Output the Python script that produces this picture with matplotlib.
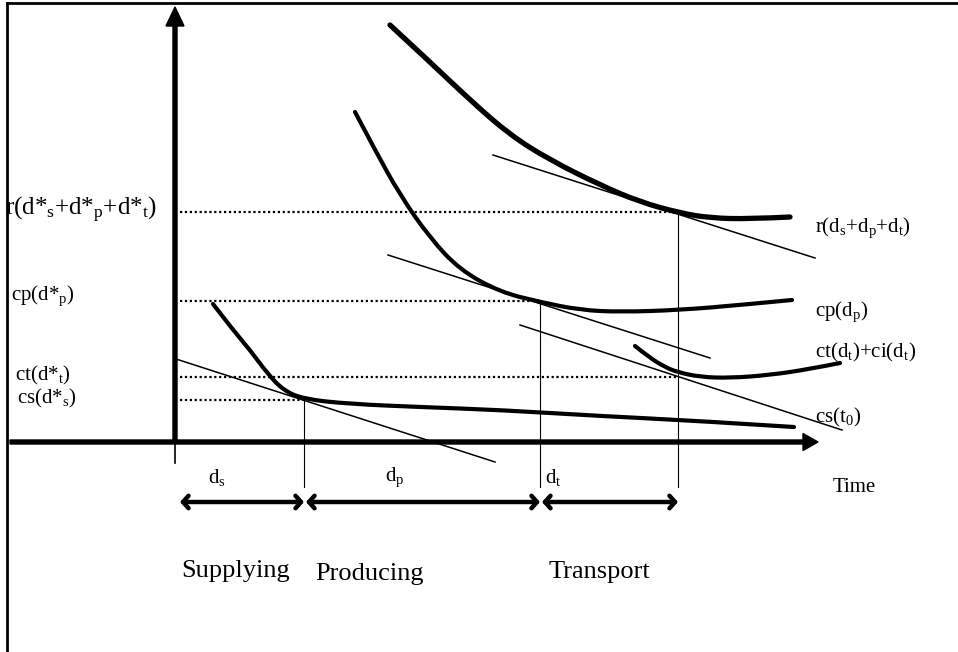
import matplotlib.pyplot as plt
from matplotlib.path import Path
from matplotlib.patches import PathPatch

plt.rcParams['font.family'] = ['Liberation Serif', 'DejaVu Serif']
plt.rcParams['mathtext.default'] = 'regular'

# curves (pixel coords, y down)
r_x = [390, 430, 470, 510, 550, 600, 640, 680, 710, 750, 790]
r_y = [25, 62, 100, 135, 160, 185, 202, 213, 218, 219, 217]
cp_x = [355, 375, 400, 430, 460, 500, 540, 580, 620, 680, 740, 792]
cp_y = [112, 150, 195, 238, 270, 292, 302, 310, 312, 310, 305, 300]
ct_x = [635, 650, 665, 677, 700, 730, 770, 810, 840]
ct_y = [346, 358, 367, 372, 377, 378, 375, 369, 363]
cs_x = [213, 233, 250, 267, 283, 303, 350, 420, 500, 600, 700, 794]
cs_y = [304, 330, 350, 373, 390, 399, 404, 407, 410, 416, 421, 427]

# tangent lines: (x0, y0, x1, y1)
tangents = [(493, 155, 815, 258), (388, 255, 710, 358),
            (520, 325, 842, 430), (176, 359, 495, 462)]

# optimum levels (dotted) and durations
levels_y = [212, 301, 377, 400]
levels_x = [678, 540, 678, 304]
bounds = [178, 304, 540, 678]
drops_top = [400, 302, 213]

left_labels = [r'r(d*$_s$+d*$_p$+d*$_t$)', r'cp(d*$_p$)', r'ct(d*$_t$)', r'cs(d*$_s$)']
left_pos = [(5, 210), (11, 296), (15, 375), (17, 398)]
left_size = [18, 15, 15, 15]
right_labels = [r'r(d$_s$+d$_p$+d$_t$)', r'cp(d$_p$)', r'ct(d$_t$)+ci(d$_t$)', r'cs(t$_0$)']
right_pos = [(815, 228), (815, 312), (815, 352), (815, 417)]
dur_labels = [r'd$_s$', r'd$_p$', r'd$_t$']
dur_pos = [(208, 477), (385, 477), (545, 477)]
phase_labels = ['Supplying', 'Producing', 'Transport']
phase_pos = [(181, 571), (315, 574), (549, 572)]


def smooth(ax, xs, ys, lw):
    # quadratic bezier through midpoints, points as control points
    pts = list(zip(xs, ys))
    verts = [pts[0]]
    codes = [Path.MOVETO]
    for i in range(1, len(pts) - 1):
        mid = ((pts[i][0] + pts[i + 1][0]) / 2, (pts[i][1] + pts[i + 1][1]) / 2)
        if i == len(pts) - 2:
            mid = pts[-1]
        verts += [pts[i], mid]
        codes += [Path.CURVE3, Path.CURVE3]
    ax.add_patch(PathPatch(Path(verts, codes), fill=False, lw=lw,
                           edgecolor='black', capstyle='round'))


fig = plt.figure(figsize=(9.58, 6.52), dpi=100)
ax = fig.add_axes([0, 0, 1, 1])
ax.set_xlim(0, 958)
ax.set_ylim(652, 0)
ax.axis('off')

# frame (top and left only)
ax.plot([7, 958], [3, 3], color='black', lw=2)
ax.plot([7, 7], [3, 652], color='black', lw=2)

# axes with arrows
ax.arrow(10, 442, 808, 0, width=4, head_width=17, head_length=15,
         length_includes_head=True, color='black')
ax.arrow(175, 442, 0, -435, width=4, head_width=18, head_length=19,
         length_includes_head=True, color='black')
ax.plot([175, 175], [442, 463], color='black', lw=1.2)

# curves
smooth(ax, r_x, r_y, 3.8)
smooth(ax, cp_x, cp_y, 3.0)
smooth(ax, ct_x, ct_y, 3.0)
smooth(ax, cs_x, cs_y, 3.0)

for x0, y0, x1, y1 in tangents:
    ax.plot([x0, x1], [y0, y1], color='black', lw=1.1)

for y, x in zip(levels_y, levels_x):
    ax.plot([180, x], [y, y], color='black', lw=1.6, ls=(0, (1, 1.2)))

for x, top in zip(bounds[1:], drops_top):
    ax.plot([x, x], [top, 487], color='black', lw=0.8)

# duration arrows
for a, b in zip(bounds[:-1], bounds[1:]):
    ax.annotate('', xy=(b, 502), xytext=(a + 2, 502),
                arrowprops=dict(arrowstyle='<->,head_length=0.4,head_width=0.45',
                                lw=3.2, color='black', shrinkA=0, shrinkB=0))

for s, (x, y), fs in zip(left_labels, left_pos, left_size):
    ax.text(x, y, s, fontsize=fs, ha='left', va='center')
for s, (x, y) in zip(right_labels, right_pos):
    ax.text(x, y, s, fontsize=15, ha='left', va='center')
for s, (x, y) in zip(dur_labels, dur_pos):
    ax.text(x, y, s, fontsize=15, ha='left', va='center')
ax.text(833, 487, 'Time', fontsize=15, ha='left', va='center')
for s, (x, y) in zip(phase_labels, phase_pos):
    ax.text(x, y, s, fontsize=19, ha='left', va='center')

fig.savefig('out.png', dpi=100)
